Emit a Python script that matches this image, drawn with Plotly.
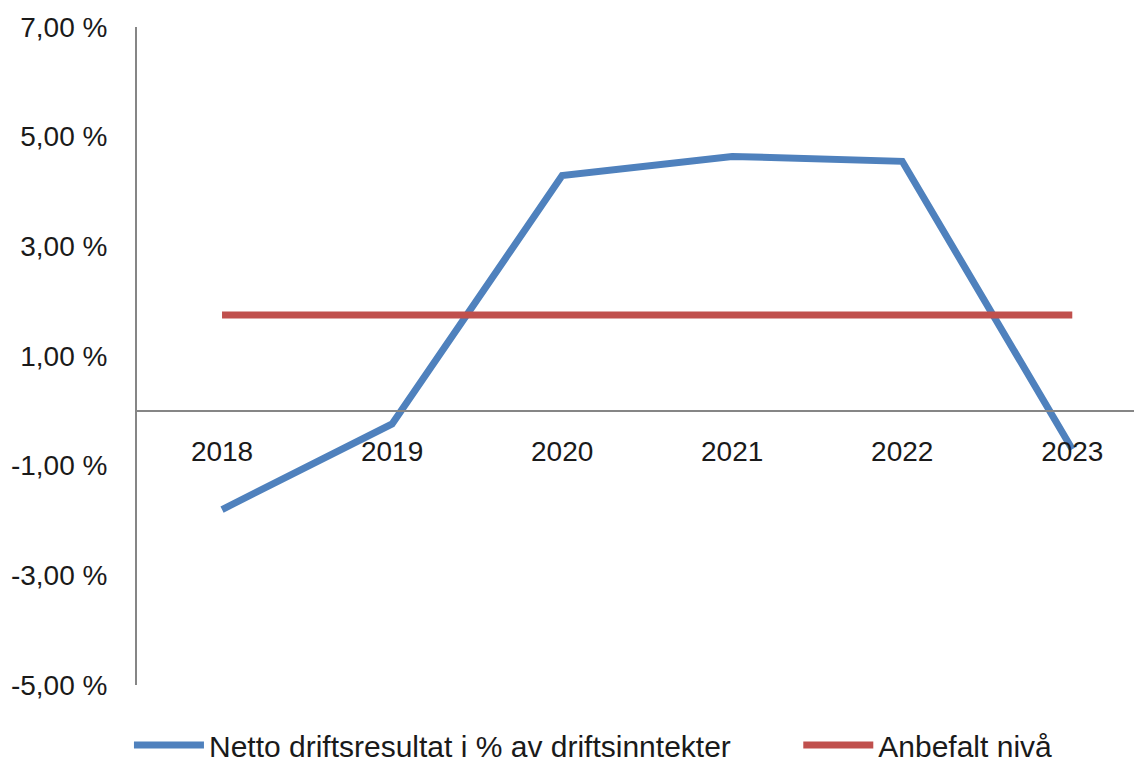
import plotly.graph_objects as go

years = ['2018', '2019', '2020', '2021', '2022', '2023']
netto = [-1.80, -0.24, 4.29, 4.64, 4.55, -0.70]
anbefalt = [1.75, 1.75, 1.75, 1.75, 1.75, 1.75]

y_ticks = [-5, -3, -1, 1, 3, 5, 7]
y_labels = ['-5,00 %', '-3,00 %', '-1,00 %', '1,00 %', '3,00 %', '5,00 %', '7,00 %']

BLUE = '#4F81BD'
RED = '#C0504D'
AXIS = '#868686'
FONT = 'Liberation Sans'

fig = go.Figure()

fig.add_trace(go.Scatter(
    x=years, y=netto, mode='lines', name='Netto driftsresultat i % av driftsinntekter',
    line=dict(color=BLUE, width=7), legend='legend',
))
fig.add_trace(go.Scatter(
    x=years, y=anbefalt, mode='lines', name='Anbefalt nivå',
    line=dict(color=RED, width=7), legend='legend2',
))

# page body has an 8px margin, so margins are shifted by that amount
leg_common = dict(orientation='h', y=-0.0912, yanchor='middle', xanchor='left',
                  font=dict(size=30), itemwidth=70, bgcolor='rgba(0,0,0,0)')

fig.update_layout(
    width=1142, height=762,
    paper_bgcolor='white', plot_bgcolor='white',
    margin=dict(l=129, r=8, t=19, b=85, autoexpand=False),
    font=dict(family=FONT, size=28, color='#1a1a1a'),
    showlegend=True,
    legend=dict(x=-0.008, **leg_common),
    legend2=dict(x=0.658, **leg_common),
    xaxis=dict(
        type='category', range=[-0.5, 5.41],
        anchor='free', position=5 / 12,
        showline=True, linecolor=AXIS, linewidth=2,
        showgrid=False, zeroline=False, ticks='',
        ticklabelstandoff=16,
        tickfont=dict(size=28),
    ),
    yaxis=dict(
        range=[-5, 7], domain=[0, 1],
        tickvals=y_ticks, ticktext=y_labels,
        showline=True, linecolor=AXIS, linewidth=2,
        showgrid=False, zeroline=False, ticks='',
        ticklabelstandoff=22,
        tickfont=dict(size=28),
    ),
)

fig.write_html('out.html')
